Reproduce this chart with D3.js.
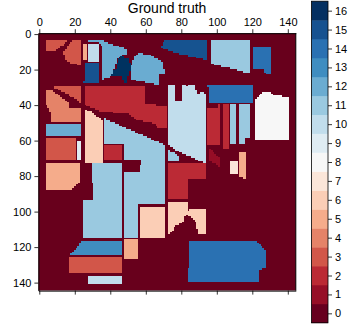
<!DOCTYPE html>
<html>
<head>
<meta charset="utf-8">
<script src="https://cdn.jsdelivr.net/npm/d3@7"></script>
<style>
  html, body { margin: 0; padding: 0; background: #fff; }
  svg { display: block; }
  text { font-family: "Liberation Sans", sans-serif; fill: #000; }
</style>
</head>
<body>
<div id="chart"></div>
<script>
// land cover classes of the scene, one entry per field
const fieldClasses = [
  3, 3, 5, 10, 15, 12, 16, 12, 15, 11, 14,
  3, 4, 2, 6, 12, 3, 9, 2, 11, 11, 5, 13, 5, 3, 10, 6,
  2, 6, 14, 7, 5, 10, 11, 14, 2, 2, 11, 11, 8, 1
];

// field outlines as [column, row] on the 145 x 145 grid
const fieldOutlines = [
  [[4,4],[17,4],[13,7],[9,10],[4,10]],
  [[19,4],[24,4],[24,18],[16,16],[14,11],[16,8]],
  [[25,6],[27,6],[27,15],[25,15]],
  [[28,6],[34,6],[34,16],[28,16]],
  [[26,17],[34,17],[34,28],[25,28],[26,26]],
  [[28,4],[36,4],[43,7],[50,9],[50,12],[45,13],[41,24],[36,26],[36,7],[34,5],[28,5]],
  [[46,13],[51,14],[52,20],[50,25],[50,28],[48,28],[47,24],[41,24],[44,19]],
  [[56,11],[62,12],[70,16],[71,23],[68,23],[68,29],[52,26],[52,20],[54,14]],
  [[71,4],[95,4],[95,15],[92,14],[81,12],[71,9],[69,8]],
  [[97,4],[119,4],[119,22],[116,22],[111,20],[101,18],[97,17]],
  [[121,8],[131,8],[131,23],[128,23],[127,20],[121,20]],
  [[8,30],[24,30],[24,39],[16,34]],
  [[4,32],[7,32],[17,39],[17,42],[24,42],[24,50],[7,50],[7,45],[4,39]],
  [[26,30],[60,30],[60,40],[72,41],[72,53],[67,53],[66,51],[55,48.5],[50,45],[35,44],[26,40]],
  [[26,43],[29,44],[36,49],[36,73],[26,73]],
  [[4,51],[24,51],[24,58],[4,58]],
  [[4,59],[21,59],[21,71],[4,71]],
  [[22,61],[24,61],[24,71],[22,71]],
  [[37,63],[47,63],[47,71],[37,71]],
  [[37,48],[71,63],[71,96],[56,96],[56,115],[48,115],[48,78],[57,78],[58,71],[48,71],[48,62],[37,62]],
  [[30,73],[47,73],[47,115],[25,115],[25,94],[31,94],[31,84],[30,84]],
  [[4,73],[23,73],[23,84],[18,88],[4,88]],
  [[24,117],[47,117],[47,125],[18,125],[21,122],[23,120]],
  [[48,116],[56,116],[56,127],[48,127]],
  [[17,126],[47,126],[47,135],[17,135]],
  [[28,137],[47,137],[47,141],[28,141]],
  [[57,98],[71,98],[71,115],[57,115]],
  [[73,73],[94,73],[94,82],[84,82],[84,93],[73,93]],
  [[73,95],[84,95],[84,101],[85,99],[94,99],[94,113],[90,113],[89,106],[87,104],[83,102],[81,107],[77,108],[75,112],[73,113]],
  [[85,117],[122,117],[128,122],[128,132],[124,133],[124,140],[84,140],[84,132],[85,132],[85,125]],
  [[108,72],[112,72],[112,79],[108,79]],
  [[113,67],[117,67],[117,82],[115,82],[115,81],[113,81]],
  [[73,29],[77,29],[77,38],[81,38],[81,29],[83,29],[84,30],[85,29],[88,29],[89,34],[91,34],[92,32],[94,34],[94,73],[87,70],[80,67],[73,63]],
  [[73,66],[76,67],[79,69],[79,72],[73,72]],
  [[95,29],[121,29],[121,39],[96,39],[96,30]],
  [[95,42],[101,42],[101,40],[102,40],[102,63],[95,63]],
  [[104,40],[107,40],[107,65],[104,65]],
  [[108,40],[111,40],[111,62],[108,62]],
  [[113,40],[119,40],[119,59],[116,59],[116,62],[113,62]],
  [[122,38],[124,35],[127,33],[131,33],[133,35],[141,36],[141,60],[122,60]],
  [[96,64],[102,71],[102,75],[100,73],[96,72]]
];

const gridSize = 145;
const axisTicks = [0, 20, 40, 60, 80, 100, 120, 140];
const barTicks = d3.range(0, 17);
const title = "Ground truth";

const width = 350, height = 327;

const x = d3.scaleLinear().domain([-0.5, gridSize - 0.5]).range([38.4, 295.8]);
const y = d3.scaleLinear().domain([-0.5, gridSize - 0.5]).range([33.2, 290.6]);

// 17 steps of the RdBu ramp
const ramp = [...d3.schemeRdBu[11]];
const color = d3.scaleLinear()
  .domain(ramp.map((d, i) => i * 16 / 10))
  .range(ramp);

// turn the outlines into the grid
const cells = [];
for (let row = 0; row < gridSize; row++) {
  for (let col = 0; col < gridSize; col++) {
    let value = 0;
    fieldOutlines.forEach((outline, i) => {
      if (d3.polygonContains(outline, [col + 0.5, row + 0.5])) value = fieldClasses[i];
    });
    if (value > 0) cells.push({ col, row, value });
  }
}

const svg = d3.select("#chart").append("svg")
  .attr("width", width)
  .attr("height", height)
  .attr("viewBox", [0, 0, width, height]);

const defs = svg.append("defs");
defs.append("clipPath").attr("id", "plot-clip").append("rect")
  .attr("x", x.range()[0]).attr("y", y.range()[0])
  .attr("width", x.range()[1] - x.range()[0])
  .attr("height", y.range()[1] - y.range()[0]);
defs.append("filter").attr("id", "soften")
  .attr("x", "-2%").attr("y", "-2%").attr("width", "104%").attr("height", "104%")
  .append("feGaussianBlur").attr("stdDeviation", 0.45);

const plot = svg.append("g").attr("clip-path", "url(#plot-clip)");
const image = plot.append("g").attr("filter", "url(#soften)").attr("shape-rendering", "crispEdges");

image.append("rect")
  .attr("x", x.range()[0] - 5).attr("y", y.range()[0] - 5)
  .attr("width", x.range()[1] - x.range()[0] + 10)
  .attr("height", y.range()[1] - y.range()[0] + 10)
  .attr("fill", color(0));

image.selectAll("rect.cell")
  .data(cells)
  .join("rect")
  .attr("class", "cell")
  .attr("x", d => x(d.col - 0.5))
  .attr("y", d => y(d.row - 0.5))
  .attr("width", x(1) - x(0) + 0.3)
  .attr("height", y(1) - y(0) + 0.3)
  .attr("fill", d => color(d.value));

function styleAxis(g) {
  g.selectAll("text").attr("font-size", 11).attr("fill", "#000");
  g.selectAll("line").attr("stroke", "#000").attr("stroke-width", 0.8);
  g.select(".domain").attr("stroke", "#000").attr("stroke-width", 1);
}

svg.append("g")
  .attr("transform", `translate(0,${y.range()[0]})`)
  .call(d3.axisTop(x).tickValues(axisTicks).tickSize(4).tickPadding(3).tickSizeOuter(0))
  .call(styleAxis);

svg.append("g")
  .attr("transform", `translate(0,${y.range()[1]})`)
  .call(d3.axisBottom(x).tickValues(axisTicks).tickSize(4).tickFormat("").tickSizeOuter(0))
  .call(styleAxis);

svg.append("g")
  .attr("transform", `translate(${x.range()[0]},0)`)
  .call(d3.axisLeft(y).tickValues(axisTicks).tickSize(4).tickPadding(3).tickSizeOuter(0))
  .call(styleAxis);

svg.append("line")
  .attr("x1", x.range()[1]).attr("x2", x.range()[1])
  .attr("y1", y.range()[0]).attr("y2", y.range()[1])
  .attr("stroke", "#000");

svg.append("text")
  .attr("x", (x.range()[0] + x.range()[1]) / 2)
  .attr("y", 13)
  .attr("text-anchor", "middle")
  .attr("font-size", 14)
  .text(title);

// colorbar
const barY = d3.scaleLinear().domain([-0.5, 16.5]).range([322.8, 1.2]);
const barLeft = 311.5, barRight = 328;

svg.append("g").selectAll("rect")
  .data(barTicks)
  .join("rect")
  .attr("x", barLeft)
  .attr("y", d => barY(d + 0.5))
  .attr("width", barRight - barLeft)
  .attr("height", d => barY(d - 0.5) - barY(d + 0.5) + 0.3)
  .attr("fill", d => color(d));

svg.append("rect")
  .attr("x", barLeft).attr("y", barY(16.5))
  .attr("width", barRight - barLeft)
  .attr("height", barY(-0.5) - barY(16.5))
  .attr("fill", "none")
  .attr("stroke", "#000")
  .attr("stroke-width", 0.8);

svg.append("g")
  .attr("transform", `translate(${barRight},0)`)
  .call(d3.axisRight(barY).tickValues(barTicks).tickSize(4).tickPadding(3).tickSizeOuter(0))
  .call(styleAxis)
  .call(g => g.select(".domain").remove());
</script>
</body>
</html>
